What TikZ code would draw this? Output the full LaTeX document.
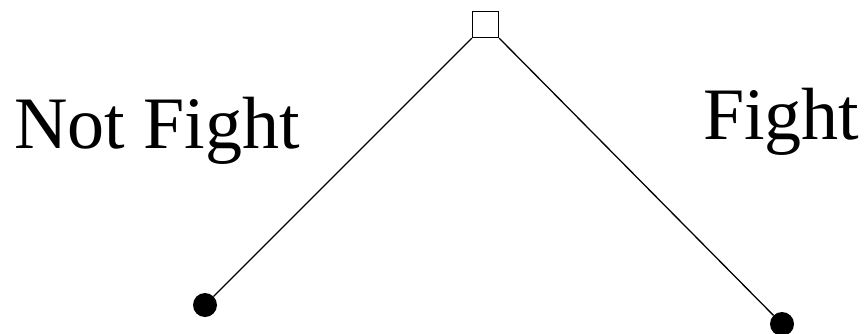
\documentclass[tikz,border=0pt]{standalone}
\usepackage{fontspec}
\setmainfont{Liberation Serif}
\begin{document}
\begin{tikzpicture}[
        x=1pt, y=-1pt,
        choice/.style={rectangle, draw=black, fill=white, line width=1.3pt,
                       minimum size=26pt, inner sep=0pt},
        leaf/.style={circle, fill=black, minimum size=24pt, inner sep=0pt},
        lbl/.style={font=\fontsize{74}{80}\selectfont, inner sep=0pt, anchor=base west},
        branch/.style={line width=1.3pt},
    ]
    \useasboundingbox (0,0) rectangle (865,333);
    \node[choice] (root) at (485.5,24.5) {};
    \node[leaf] (notfight) at (205,305) {};
    \node[leaf] (fight) at (782,324) {};
    \draw[branch] (root.south west) -- (notfight);
    \draw[branch] (root.south east) -- (fight);
    \node[lbl] (notfightlbl) at (14,148) {Not Fight};
    \node[lbl] (fightlbl) at (703,139) {Fight};
\end{tikzpicture}
\end{document}
